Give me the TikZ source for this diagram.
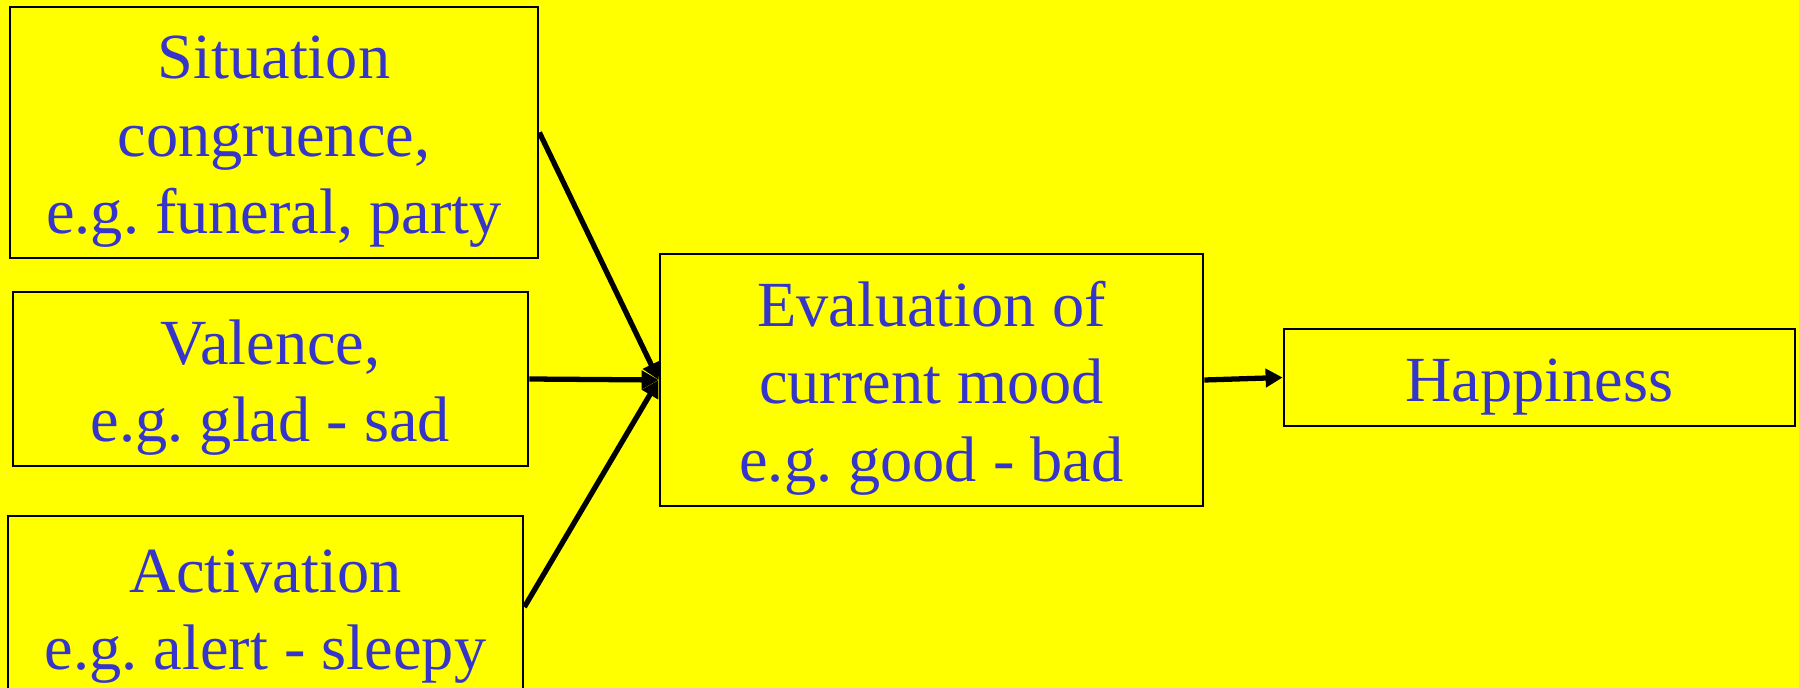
\documentclass[tikz,border=0pt]{standalone}
\usepackage{fontspec}
\setmainfont{Liberation Serif}
\usepackage{tikz}
\usetikzlibrary{positioning, arrows.meta}
\definecolor{MoodYellow}{HTML}{FFFF00}
\definecolor{MoodBlue}{HTML}{3535CC}
\frenchspacing
\newcommand{\topgap}{\rule{0pt}{17.5pt}}

\begin{document}
\begin{tikzpicture}[x=0.01cm, y=-0.01cm,
    factor/.style={draw=black, line width=0.7pt, fill=MoodYellow, text=MoodBlue,
      align=center, inner sep=0pt, font=\fontsize{18.3}{22}\selectfont},
    link/.style={line width=1.5pt, -{Triangle[length=0.17cm, width=0.18cm]}}]
  \fill[MoodYellow] (0,0) rectangle (1799,688);
  \useasboundingbox (0,0) rectangle (1799,688);
  % input factors
  \node[factor, minimum width=5.28cm, minimum height=2.51cm] (situation) at (274,132.5)
    {\topgap Situation\\congruence,\\e.g. funeral, party};
  \node[factor, minimum width=5.15cm, minimum height=1.74cm] (valence) at (270.5,379)
    {\topgap Valence,\\e.g. glad - sad};
  \node[factor, minimum width=5.15cm, minimum height=1.82cm] (activation) at (265.5,607)
    {\topgap Activation\\e.g. alert - sleepy};
  % evaluation and outcome
  \node[factor, minimum width=5.43cm, minimum height=2.52cm] (evaluation) at (931.5,380)
    {\topgap Evaluation of\\current mood\\e.g. good - bad};
  \node[factor, minimum width=5.11cm, minimum height=0.97cm] (happiness) at (1539.5,377.5)
    {\topgap Happiness};
  \draw[link] (situation.east) -- (evaluation.west);
  \draw[link] (valence.east) -- (evaluation.west);
  \draw[link] (activation.east) -- (evaluation.west);
  \draw[link] (evaluation.east) -- (happiness.west);
\end{tikzpicture}
\end{document}
